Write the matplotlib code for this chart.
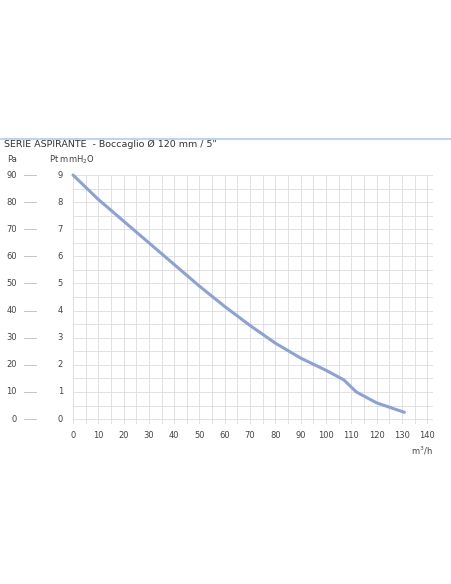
import matplotlib.pyplot as plt
import matplotlib.transforms as mtransforms

flow = [0, 10, 20, 30, 40, 50, 60, 70, 80, 90, 100, 107, 112, 120, 131]
pt_mmh2o = [9.0, 8.1, 7.3, 6.5, 5.7, 4.9, 4.15, 3.45, 2.8, 2.25, 1.8, 1.45, 1.0, 0.6, 0.25]
x_ticks = list(range(0, 150, 10))
mm_ticks = list(range(0, 10))
pa_labels = [str(v * 10) for v in mm_ticks]

W, H = 452, 584
fig = plt.figure(figsize=(W / 100, H / 100), dpi=100)
plt.rcParams['font.family'] = ['DejaVu Sans']

# header line + title
fig.add_artist(plt.Line2D([0, 1], [1 - 139 / H] * 2, color='#b8c8e6', lw=1.2))
fig.text(4 / W, 1 - 144 / H, 'SERIE ASPIRANTE  - Boccaglio Ø 120 mm / 5"',
         fontsize=6.8, color='#333333', va='center')

ax = fig.add_axes([73 / W, 1 - 424 / H, 360 / W, 249 / H])
ax.set_xlim(0, 142.3)
ax.set_ylim(-0.18, 9.0)
for s in ax.spines.values():
    s.set_visible(False)

ax.set_xticks(range(0, 145, 5), minor=False)
ax.set_yticks([v / 2 for v in range(0, 19)])
ax.grid(True, color='#dcdcdc', lw=0.6)
ax.tick_params(length=0, labelbottom=False, labelleft=False)

gray = '#444444'
for v in x_ticks:
    ax.text(v, -0.45, str(v), ha='center', va='top', fontsize=6, color=gray)
ax.text(142, -0.95, 'm$^3$/h', ha='right', va='top', fontsize=6, color=gray)

trans = mtransforms.blended_transform_factory(fig.transFigure, ax.transData)
for v, lab in zip(mm_ticks, pa_labels):
    ax.text(63 / W, v, str(v), transform=trans, ha='right', va='center', fontsize=6, color=gray)
    ax.text(17 / W, v, lab, transform=trans, ha='right', va='center', fontsize=6, color=gray)
    ax.plot([24 / W, 36 / W], [v, v], transform=trans, color='#bbbbbb', lw=0.6, clip_on=False)
fig.text(12 / W, 1 - 160 / H, 'Pa', ha='center', va='center', fontsize=6, color=gray)
fig.text(72 / W, 1 - 160 / H, 'Pt mmH$_2$O', ha='center', va='center', fontsize=6, color=gray)

ax.plot(flow, pt_mmh2o, color='#8aa2d8', lw=2.2, solid_capstyle='round', clip_on=False)

fig.savefig('out.png', dpi=100)
